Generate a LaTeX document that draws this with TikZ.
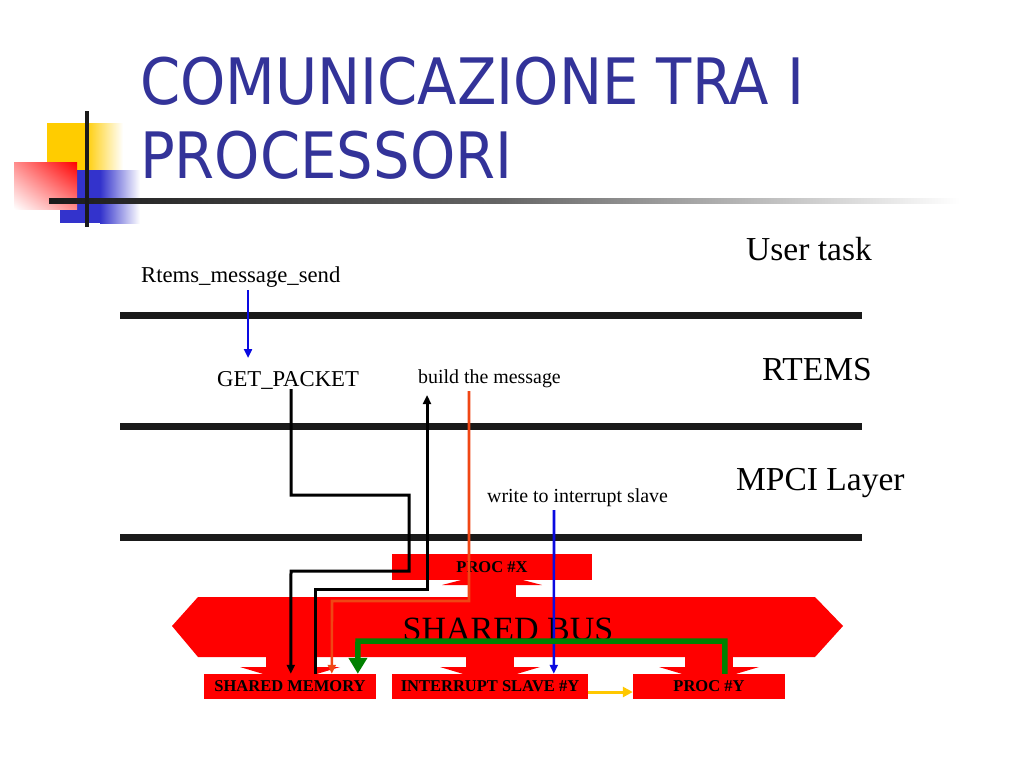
\documentclass[tikz,border=0pt]{standalone}
\usepackage{fontspec}
\setmainfont{Liberation Serif}
\newfontfamily\titlefont[FakeStretch=0.9]{DejaVu Sans}
\usetikzlibrary{arrows.meta,calc,shadings}
\definecolor{titleblue}{RGB}{51,51,153}
\definecolor{logoyellow}{RGB}{255,204,0}
\definecolor{logoblue}{RGB}{51,51,204}
\definecolor{busred}{RGB}{255,0,0}
\definecolor{lineblue}{RGB}{10,10,225}
\definecolor{lineorange}{RGB}{240,70,20}
\definecolor{linegreen}{RGB}{0,128,0}
\definecolor{lineyellow}{RGB}{255,200,0}
\definecolor{layerblack}{RGB}{26,26,26}
\begin{document}
\begin{tikzpicture}[x=1pt,y=-1pt,
  layerline/.style={line width=7pt,layerblack},
  bigtxt/.style={inner sep=0pt,font=\fontsize{33.5}{38}\selectfont},
  midtxt/.style={inner sep=0pt,font=\fontsize{22.7}{26}\selectfont},
  smalltxt/.style={inner sep=0pt,font=\fontsize{19.9}{23}\selectfont},
  redbox/.style={fill=busred,inner sep=0pt,minimum height=25pt,
    font=\fontsize{16.5}{19}\selectfont\bfseries},
  blkarrow/.style={line width=3pt,black,-{Triangle[width=8pt,length=9pt]}},
  bluearrow/.style={line width=2.6pt,lineblue,-{Triangle[width=8pt,length=9pt]}},
  orarrow/.style={line width=2.6pt,lineorange,-{Triangle[width=8pt,length=9pt]}},
  grarrow/.style={line width=5.5pt,linegreen,-{Triangle[width=18pt,length=16pt]}},
  yelarrow/.style={line width=3pt,lineyellow,-{Triangle[width=10pt,length=10pt]}},
]
\useasboundingbox (0,0) rectangle (1024,768);
\fill[white] (0,0) rectangle (1024,768);

% ---- logo ----
\fill[logoyellow] (47,123) rectangle (86,170);
\shade[left color=logoyellow,right color=white] (85,123) rectangle (123,170);
\fill[logoblue] (60,170) rectangle (101,223);
\shade[left color=logoblue,right color=white] (100,170) rectangle (140,223);
\shade[upper right=busred,lower left=white,upper left=busred!45,lower right=busred!45]
  (14,162) rectangle (77,209);
\shade[left color=layerblack,right color=white,middle color=black!60] (49,198.5) rectangle (960,203.5);
\draw[line width=4pt,layerblack] (87,111) -- (87,227);

% ---- title ----
\node[anchor=base west,inner sep=0pt,text=titleblue,font=\titlefont\fontsize{64}{74}\selectfont]
  (title1) at (140,104) {COMUNICAZIONE TRA I};
\node[anchor=base west,inner sep=0pt,text=titleblue,font=\titlefont\fontsize{64}{74}\selectfont]
  (title2) at (140,178) {PROCESSORI};

% ---- layer lines ----
\draw[layerline] (120,315.5) -- (862,315.5);
\draw[layerline] (120,426.5) -- (862,426.5);
\draw[layerline] (120,537.5) -- (862,537.5);

% ---- layer labels ----
\node[bigtxt,anchor=base east] (usertask) at (872,260) {User task};
\node[bigtxt,anchor=base east] (rtemslbl) at (872,380) {RTEMS};
\node[bigtxt,anchor=base west] (mpci) at (736,490) {MPCI Layer};
\node[midtxt,anchor=base west] (send) at (141,282) {Rtems\_message\_send};
\node[midtxt,anchor=base west] (getpacket) at (217,386) {GET\_PACKET};
\node[smalltxt,anchor=base west] (build) at (418,383) {build the message};
\node[smalltxt,anchor=base west] (write) at (487,502) {write to interrupt slave};

% ---- shared bus ----
\fill[busred] (172,626) -- (198,597) -- (815,597) -- (843,626) -- (815,657) -- (198,657) -- cycle;
% up arrow to PROC #X
\fill[busred] (468,584) rectangle (516,598);
\fill[busred] (442,585) -- (542,585) -- (492,572) -- cycle;
% down arrows
\foreach \cx in {290,490,709}{
  \fill[busred] (\cx-24,656) rectangle (\cx+24,667.5);
  \fill[busred] (\cx-50,667) -- (\cx+50,667) -- (\cx,682) -- cycle;
}
\node[inner sep=0pt,anchor=base,font=\fontsize{34}{38}\selectfont] (bus) at (508,640) {SHARED BUS};

% ---- boxes ----
\node[redbox,minimum width=200pt,minimum height=26pt] (procx) at (492,567) {PROC \#X};
\node[redbox,minimum width=172pt] (shm) at (290,686.5) {SHARED MEMORY};
\node[redbox,minimum width=196pt] (irq) at (490,686.5) {INTERRUPT SLAVE \#Y};
\node[redbox,minimum width=152pt] (procy) at (709,686.5) {PROC \#Y};

% ---- connectors ----
\coordinate (sendout) at (248,290);
\coordinate (gpin) at (248,358);
\draw[bluearrow] (sendout) -- (gpin);

\draw[blkarrow] ([xshift=3pt]getpacket.south) |- (409,495) |- (291,571) -- ($(shm.north west)+(87,0)$);
\coordinate (buildin) at (427,395);
\draw[blkarrow] ($(shm.north west)+(112,0)$) |- (427,589) -- (buildin);

\coordinate (buildout) at (469,391);
\draw[orarrow] (buildout) |- (332,601) -- ($(shm.north west)+(128,0)$);

\coordinate (writeout) at (554,510);
\draw[bluearrow] (writeout) -- ($(irq.north west)+(162,0)$);

\draw[grarrow] ($(procy.north west)+(92,0)$) |- (358,641) -- ($(shm.north west)+(154,0)$);

\draw[yelarrow] ([yshift=-5.5pt]irq.east) -- ([yshift=-5.5pt]procy.west);
\end{tikzpicture}
\end{document}
